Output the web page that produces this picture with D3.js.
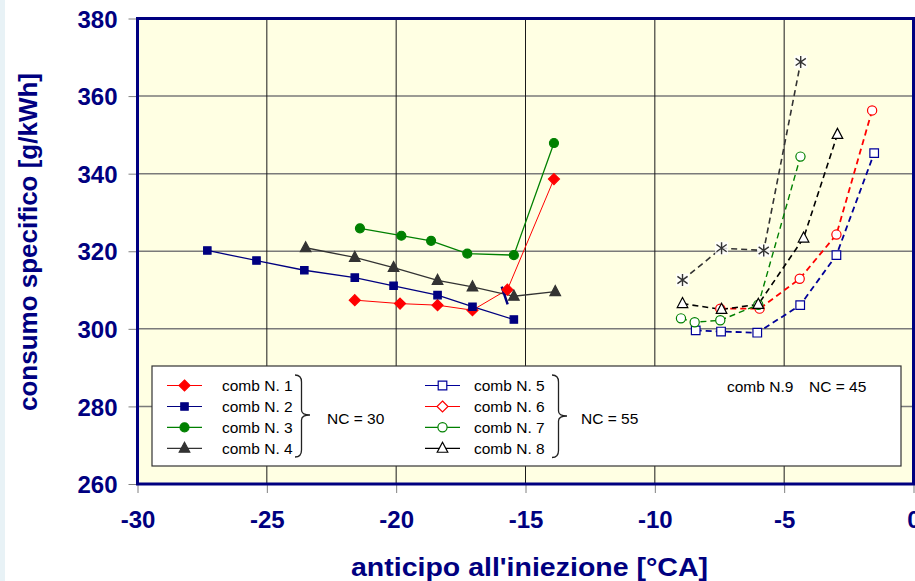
<!DOCTYPE html>
<html>
  <head>
    <title>consumo specifico</title>
    <meta charset="utf-8" />
    <script src="https://d3js.org/d3.v7.min.js"></script>
    <style>
      body { margin: 0; background: #ffffff; }
      svg { display: block; font-family: "Liberation Sans", Arial, sans-serif; }
    </style>
  </head>

  <body>
    <script>
      // tick values
      const xTicks = [-30, -25, -20, -15, -10, -5, 0];
      const yTicks = [260, 280, 300, 320, 340, 360, 380];

      // NC = 30 (solid lines)
      const comb1 = [[-21.6, 307.4], [-19.85, 306.5], [-18.4, 306.1], [-17.05, 304.8], [-15.7, 310.1], [-13.9, 338.6]];
      const comb2 = [[-27.3, 320.2], [-25.4, 317.6], [-23.55, 315.1], [-21.6, 313.2], [-20.1, 311.1], [-18.4, 308.7], [-17.05, 305.7], [-15.45, 302.4]];
      const comb3 = [[-21.4, 325.9], [-19.8, 324.0], [-18.65, 322.7], [-17.25, 319.4], [-15.45, 319.0], [-13.9, 347.9]];
      const comb4 = [[-23.5, 320.9], [-21.6, 318.4], [-20.1, 315.8], [-18.4, 312.5], [-17.05, 310.8], [-15.45, 308.4], [-13.85, 309.6]];

      // NC = 55 (dashed lines)
      const comb5 = [[-8.42, 299.6], [-7.44, 299.3], [-6.04, 299.0], [-4.38, 306.1], [-2.98, 319.0], [-1.52, 345.3]];
      const comb6 = [[-7.47, 305.2], [-5.95, 305.2], [-4.4, 312.9], [-2.98, 324.3], [-1.6, 356.3]];
      const comb7 = [[-8.99, 302.7], [-8.46, 301.7], [-7.47, 302.2], [-6.0, 306.2], [-4.37, 344.4]];
      const comb8 = [[-8.93, 306.5], [-7.42, 305.0], [-6.0, 306.3], [-4.25, 323.4], [-2.94, 350.1]];

      // NC = 45
      const comb9 = [[-8.93, 312.6], [-7.42, 320.8], [-5.79, 320.2], [-4.36, 368.8]];

      // stray navy stroke near comb 2
      const strayMark = [[-15.92, 310.9], [-15.69, 306.3]];

      const series = [
        { name: "comb N. 1", data: comb1, color: "#ff0000", marker: "diamond", filled: true, dash: null, lw: 1 },
        { name: "comb N. 2", data: comb2, color: "#000080", marker: "square", filled: true, dash: null, lw: 1.3 },
        { name: "comb N. 3", data: comb3, color: "#008000", marker: "circle", filled: true, dash: null, lw: 1.3 },
        { name: "comb N. 4", data: comb4, color: "#333333", marker: "triangle", filled: true, dash: null, lw: 1.3 },
        { name: "comb N. 5", data: comb5, color: "#000099", marker: "square", filled: false, dash: "6,4", lw: 1.8 },
        { name: "comb N. 6", data: comb6, color: "#ff0000", marker: "circle", filled: false, dash: "6,4", lw: 1.8 },
        { name: "comb N. 7", data: comb7, color: "#008000", marker: "circle", filled: false, dash: "6,4", lw: 1.4 },
        { name: "comb N. 8", data: comb8, color: "#000000", marker: "triangle", filled: false, dash: "6,4", lw: 1.6 },
        { name: "comb N.9", data: comb9, color: "#333333", marker: "star", filled: false, dash: "6,4", lw: 1.6 },
      ];

      const legendMarkers = ["diamond", "square", "circle", "triangle", "square", "diamond", "circle", "triangle"];

      const width = 915;
      const height = 581;
      const plot = { left: 137.5, right: 913.5, top: 18.5, bottom: 484 };
      const navy = "#000080";

      const svg = d3
        .select("body")
        .append("svg")
        .attr("width", width)
        .attr("height", height);

      // pale strip on the left edge
      svg.append("rect").attr("x", 0).attr("y", 0).attr("width", 5).attr("height", height).attr("fill", "#e8f2f6");

      const x = d3.scaleLinear().domain([-30, 0]).range([plot.left, plot.right]);
      const y = d3.scaleLinear().domain([260, 380]).range([plot.bottom, plot.top]);

      // plot background
      svg
        .append("rect")
        .attr("x", plot.left)
        .attr("y", plot.top)
        .attr("width", plot.right - plot.left)
        .attr("height", plot.bottom - plot.top)
        .attr("fill", "#ffffe3");

      // grid lines
      svg
        .selectAll(".hgrid")
        .data(yTicks.slice(1, -1))
        .join("line")
        .attr("class", "hgrid")
        .attr("x1", plot.left)
        .attr("x2", plot.right)
        .attr("y1", (d) => y(d))
        .attr("y2", (d) => y(d))
        .attr("stroke", "#7a7a7a")
        .attr("stroke-width", 1.5);

      svg
        .selectAll(".vgrid")
        .data(xTicks.slice(1, -1))
        .join("line")
        .attr("class", "vgrid")
        .attr("x1", (d) => x(d))
        .attr("x2", (d) => x(d))
        .attr("y1", plot.top)
        .attr("y2", plot.bottom)
        .attr("stroke", "#1a1a1a")
        .attr("stroke-width", 1);

      // axes (ticks + labels), plain hyphen for negatives
      const xAxis = d3.axisBottom(x).tickValues(xTicks).tickSize(9).tickPadding(18).tickFormat((d) => String(d));
      const yAxis = d3.axisLeft(y).tickValues(yTicks).tickSize(9).tickPadding(11).tickFormat((d) => String(d));

      const gx = svg.append("g").attr("transform", `translate(0,${plot.bottom})`).call(xAxis);
      const gy = svg.append("g").attr("transform", `translate(${plot.left},0)`).call(yAxis);

      [gx, gy].forEach((g) => {
        g.select(".domain").remove();
        g.selectAll(".tick line").attr("stroke", "#808080");
        g.selectAll(".tick text")
          .attr("fill", navy)
          .attr("font-size", 24)
          .attr("font-weight", "bold")
          .attr("font-family", "'Liberation Sans', Arial, sans-serif");
      });
      gy.selectAll(".tick text").attr("dy", "0.36em");

      // legend box
      const legend = svg.append("g");
      legend
        .append("rect")
        .attr("x", 152)
        .attr("y", 366)
        .attr("width", 749)
        .attr("height", 100)
        .attr("fill", "#ffffff")
        .attr("stroke", "#333333")
        .attr("stroke-width", 1.2);

      // marker shapes
      function markerPath(type, s) {
        if (type === "diamond") return `M0,${-s}L${s},0L0,${s}L${-s},0Z`;
        if (type === "square") return `M${-s},${-s}H${s}V${s}H${-s}Z`;
        if (type === "triangle") return `M0,${-s * 1.15}L${s},${s * 0.75}L${-s},${s * 0.75}Z`;
        if (type === "star")
          return `M0,${-s}V${s}M${-s * 0.85},${-s * 0.6}L${s * 0.85},${s * 0.6}M${-s * 0.85},${s * 0.6}L${s * 0.85},${-s * 0.6}`;
        return d3.symbol(d3.symbolCircle, Math.PI * s * s)();
      }

      function markerSize(type, filled) {
        if (type === "diamond") return 5.5;
        if (type === "square") return filled ? 3.7 : 4.3;
        if (type === "triangle") return 5.3;
        if (type === "star") return 6;
        return filled ? 4.5 : 4.6;
      }

      function drawMarker(g, type, filled, color, cx, cy) {
        const s = markerSize(type, filled);
        if (type === "star") {
          g.append("rect")
            .attr("x", cx - 6.5)
            .attr("y", cy - 6.5)
            .attr("width", 13)
            .attr("height", 13)
            .attr("fill", "#ffffff")
            .attr("opacity", 0.8);
        }
        g.append("path")
          .attr("transform", `translate(${cx},${cy})`)
          .attr("d", markerPath(type, s))
          .attr("fill", type === "star" ? "none" : filled ? color : "#ffffff")
          .attr("stroke", color)
          .attr("stroke-width", type === "star" ? 1.4 : 1.2);
      }

      const line = d3
        .line()
        .x((d) => x(d[0]))
        .y((d) => y(d[1]));

      const chart = svg.append("g");

      // lines
      series.forEach((s) => {
        chart
          .append("path")
          .datum(s.data)
          .attr("d", line)
          .attr("fill", "none")
          .attr("stroke", s.color)
          .attr("stroke-width", s.lw)
          .attr("stroke-dasharray", s.dash);
      });

      chart
        .append("path")
        .datum(strayMark)
        .attr("d", line)
        .attr("stroke", navy)
        .attr("stroke-width", 2.5);

      // markers
      series.forEach((s) => {
        s.data.forEach((d) => drawMarker(chart, s.marker, s.filled, s.color, x(d[0]), y(d[1])));
      });

      // plot frame
      svg
        .append("rect")
        .attr("x", plot.left)
        .attr("y", plot.top)
        .attr("width", plot.right - plot.left)
        .attr("height", plot.bottom - plot.top)
        .attr("fill", "none")
        .attr("stroke", navy)
        .attr("stroke-width", 3);

      // legend entries
      const rowY = [385.5, 406.5, 427.3, 448.3];
      series.slice(0, 8).forEach((s, i) => {
        const col = i < 4 ? 0 : 1;
        const ly = rowY[i % 4];
        const lx0 = col === 0 ? 167 : 425;
        legend
          .append("line")
          .attr("x1", lx0)
          .attr("x2", lx0 + 35)
          .attr("y1", ly)
          .attr("y2", ly)
          .attr("stroke", s.color)
          .attr("stroke-width", 1.2);
        drawMarker(legend, legendMarkers[i], s.filled, s.color, lx0 + 17.5, ly);
        legend
          .append("text")
          .attr("x", col === 0 ? 222 : 474)
          .attr("y", ly)
          .attr("dy", "0.36em")
          .attr("font-size", 15.5)
          .attr("fill", "#000")
          .text(s.name);
      });

      // braces
      function brace(x0, top, bottom, mid) {
        const xb = x0 + 6.5;
        const tip = x0 + 15;
        return `M${x0},${top} Q${xb},${top} ${xb},${top + 7} L${xb},${mid - 5} Q${xb},${mid} ${tip},${mid} Q${xb},${mid} ${xb},${mid + 5} L${xb},${bottom - 7} Q${xb},${bottom} ${x0},${bottom}`;
      }
      legend.append("path").attr("d", brace(295, 375, 457, 415)).attr("fill", "none").attr("stroke", "#222").attr("stroke-width", 1.3);
      legend.append("path").attr("d", brace(552, 375, 457.5, 416)).attr("fill", "none").attr("stroke", "#222").attr("stroke-width", 1.3);

      legend.append("text").attr("x", 327).attr("y", 418).attr("dy", "0.36em").attr("font-size", 15.5).text("NC = 30");
      legend.append("text").attr("x", 581).attr("y", 418).attr("dy", "0.36em").attr("font-size", 15.5).text("NC = 55");
      legend.append("text").attr("x", 727).attr("y", 386).attr("dy", "0.36em").attr("font-size", 15.5).text("comb N.9");
      legend.append("text").attr("x", 809).attr("y", 386).attr("dy", "0.36em").attr("font-size", 15.5).text("NC = 45");

      // axis titles
      svg
        .append("text")
        .attr("x", 529.5)
        .attr("y", 576)
        .attr("text-anchor", "middle")
        .attr("font-size", 26)
        .attr("font-weight", "bold")
        .attr("fill", navy)
        .attr("textLength", 357)
        .attr("lengthAdjust", "spacingAndGlyphs")
        .text("anticipo all'iniezione [°CA]");

      svg
        .append("text")
        .attr("transform", "translate(37,242) rotate(-90)")
        .attr("text-anchor", "middle")
        .attr("font-size", 26)
        .attr("font-weight", "bold")
        .attr("fill", navy)
        .text("consumo specifico [g/kWh]");
    </script>
  </body>
</html>
